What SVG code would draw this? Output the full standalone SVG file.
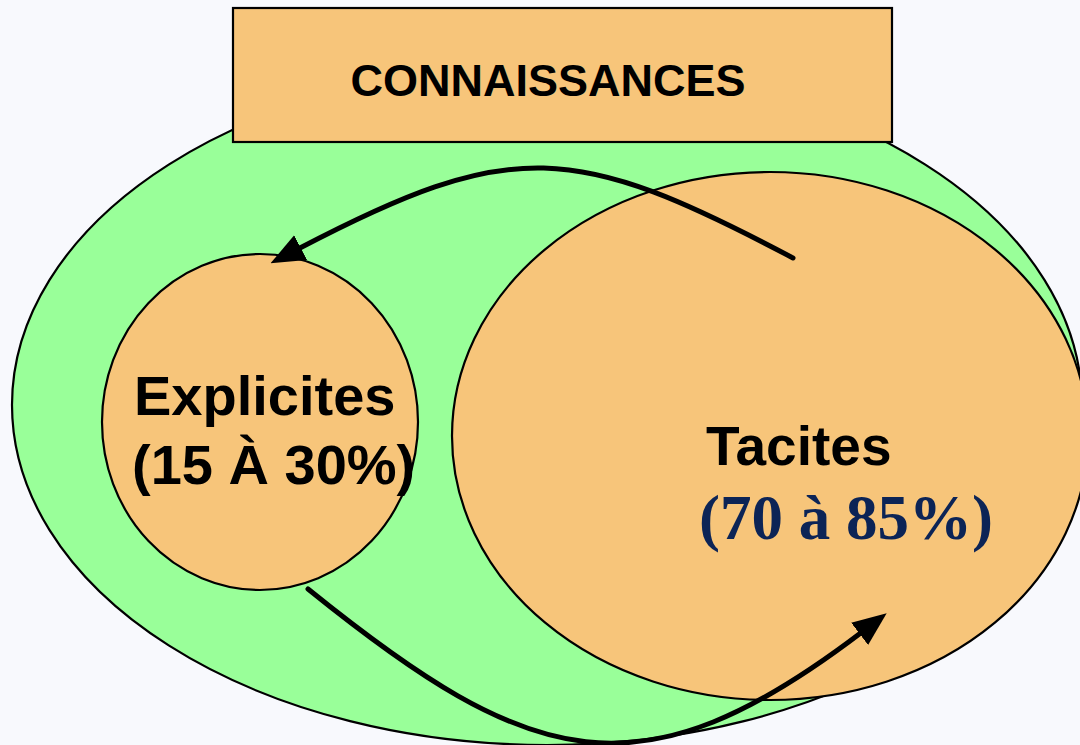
<svg xmlns="http://www.w3.org/2000/svg" width="1080" height="745" viewBox="0 0 1080 745">
  <style>
    .shape { stroke: #000; stroke-width: 2.2; }
    .green { fill: #99ff99; }
    .tan { fill: #f7c57a; }
    .label { font-family: "Liberation Sans", Arial, sans-serif; font-weight: bold; fill: #000; }
    .pct { font-family: "Liberation Serif", "Times New Roman", serif; font-weight: bold; fill: #0c2456; }
    .flow { fill: none; stroke: #000; stroke-width: 5; stroke-linecap: round; }
  </style>
  <defs>
    <marker id="head" markerUnits="userSpaceOnUse" markerWidth="34" markerHeight="30" viewBox="0 0 34 30" refX="3" refY="15" orient="auto">
      <path d="M0,1 L34,15 L0,29 z" fill="#000"/>
    </marker>
  </defs>

  <rect width="1080" height="745" fill="#f8f9fd"/>

  <!-- outer knowledge field -->
  <g id="knowledge-field">
    <ellipse class="shape green" cx="547" cy="405" rx="535" ry="340"/>
  </g>

  <!-- title box -->
  <g id="title">
    <rect class="shape tan" x="233" y="8" width="659" height="134"/>
    <text class="label" x="548" y="96" font-size="45" text-anchor="middle">CONNAISSANCES</text>
  </g>

  <!-- tacit knowledge -->
  <g id="tacites">
    <ellipse class="shape tan" cx="770" cy="436" rx="318" ry="264"/>
    <text class="label" x="706" y="465" font-size="55">Tacites</text>
    <text class="pct" x="699" y="539" font-size="63">(70 à 85%)</text>
  </g>

  <!-- explicit knowledge -->
  <g id="explicites">
    <ellipse class="shape tan" cx="260" cy="422" rx="158" ry="168"/>
    <text class="label" x="134" y="415" font-size="56">Explicites</text>
    <text class="label" x="132" y="484" font-size="56">(15 À 30%)</text>
  </g>

  <!-- conversion cycle -->
  <g id="connectors">
    <path class="flow" d="M793,258 C574,142 512,137 298,249" marker-end="url(#head)"/>
    <path class="flow" d="M308,589 C532,770 640,801 862,632" marker-end="url(#head)"/>
  </g>
</svg>
